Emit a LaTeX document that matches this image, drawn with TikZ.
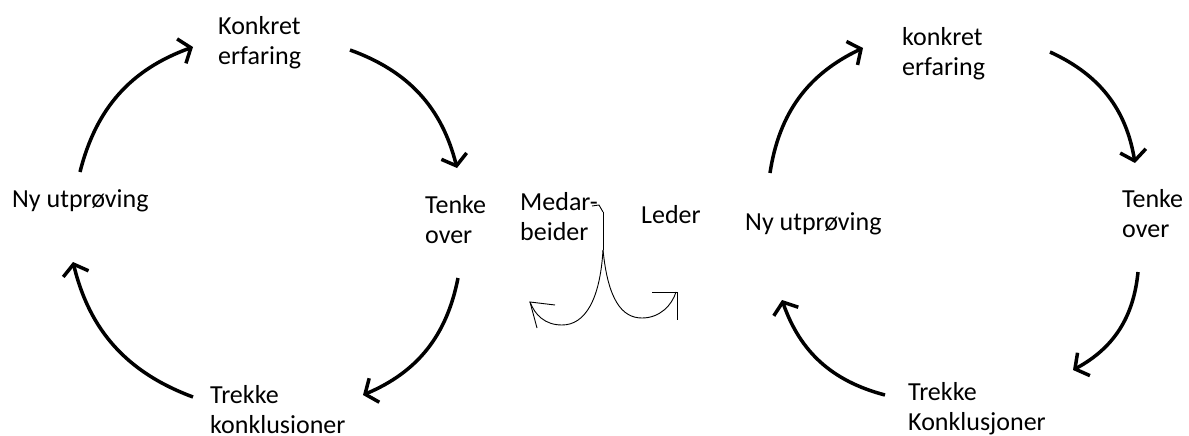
\documentclass[tikz,border=0pt]{standalone}
\usepackage{fontspec}
\setmainfont{Carlito}
\usepackage{tikz}
\usetikzlibrary{arrows.meta}
\tikzstyle{cyclearrow} = [line width=3.5pt,-{Straight Barb[length=10pt,width=26pt]},bend left=28]
\tikzstyle{label} = [inner sep=0pt,anchor=base west,align=left,font=\fontsize{26}{30}\selectfont]

\begin{document}
\begin{tikzpicture}[x=1pt,y=1pt]
	\useasboundingbox (0,0) rectangle (1189,-436);
	
	% Left cycle:
	\node[label] (konkretL) at (218,-65) {Konkret\\erfaring};
	\node[label] (tenkeL) at (425,-243) {Tenke\\over};
	\node[label] (nyL) at (12,-207) {Ny utpr\o ving};
	\node[label] (trekkeL) at (210,-433) {Trekke\\konklusioner};
	
	\coordinate (l1a) at (80,-172);  \coordinate (l1b) at (193,-47);
	\coordinate (l2a) at (350,-50);  \coordinate (l2b) at (457,-168);
	\coordinate (l3a) at (458,-278); \coordinate (l3b) at (363,-395);
	\coordinate (l4a) at (193,-397); \coordinate (l4b) at (73,-262);
	
	\draw[cyclearrow] (l1a) to (l1b);
	\draw[cyclearrow] (l2a) to (l2b);
	\draw[cyclearrow] (l3a) to (l3b);
	\draw[cyclearrow] (l4a) to (l4b);
	
	% Right cycle:
	\node[label] (konkretR) at (902,-75) {konkret\\erfaring};
	\node[label] (tenkeR) at (1122,-237) {Tenke\\over};
	\node[label] (nyR) at (745,-230) {Ny utpr\o ving};
	\node[label] (trekkeR) at (908,-430) {Trekke\\Konklusjoner};
	
	\coordinate (r1a) at (770,-173);  \coordinate (r1b) at (863,-48);
	\coordinate (r2a) at (1050,-52);  \coordinate (r2b) at (1135,-163);
	\coordinate (r3a) at (1138,-272); \coordinate (r3b) at (1073,-370);
	\coordinate (r4a) at (885,-395);  \coordinate (r4b) at (782,-300);
	
	\draw[cyclearrow] (r1a) to (r1b);
	\draw[cyclearrow] (r2a) to (r2b);
	\draw[cyclearrow] (r3a) to (r3b);
	\draw[cyclearrow] (r4a) to (r4b);
	
	% Middle: the fork
	\node[label] (medarbeider) at (520,-240) {Medar-\\beider};
	\node[label] (leder) at (641,-223) {Leder};
	
	\begin{scope}[line width=0.9pt]
		\coordinate (forktop) at (603,-212);
		\coordinate (forksplit) at (603,-250);
		\draw (592,-206) -- (599,-205) -- (forktop);
		\draw (forktop) -- (forksplit);
		\draw (forksplit) .. controls (600,-300) and (585,-325) .. (562,-325)
			.. controls (545,-325) and (535,-315) .. (530,-302);
		\draw (forksplit) .. controls (608,-300) and (622,-318) .. (642,-318)
			.. controls (660,-318) and (672,-305) .. (676,-292);
		% arrow ends, drawn by hand
		\draw (555,-305) -- (530,-302) -- (537,-328);
		\draw (652,-292) -- (677,-292) -- (677,-320);
	\end{scope}
	
\end{tikzpicture}
\end{document}
